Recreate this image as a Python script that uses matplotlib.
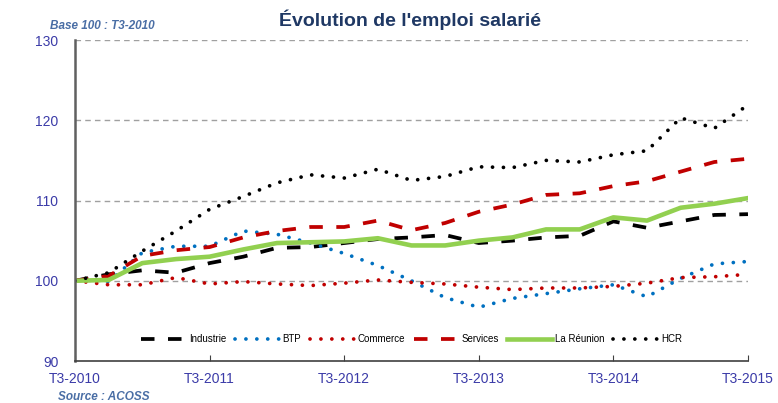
import numpy as np
import matplotlib.pyplot as plt

plt.rcParams['font.family'] = ['Liberation Sans', 'DejaVu Sans']

quarters = ["T3-2010", "T4-2010", "T1-2011", "T2-2011", "T3-2011", "T4-2011", "T1-2012", "T2-2012",
            "T3-2012", "T4-2012", "T1-2013", "T2-2013", "T3-2013", "T4-2013", "T1-2014", "T2-2014",
            "T3-2014", "T4-2014", "T1-2015", "T2-2015", "T3-2015"]
industrie = [100, 100.8, 101.3, 101.0, 102.2, 103.0, 104.1, 104.2, 104.7, 105.2, 105.4, 105.7,
             104.7, 105.0, 105.4, 105.6, 107.4, 106.6, 107.4, 108.2, 108.3]
btp = [100, 99.9, 103.5, 104.3, 104.3, 106.2, 105.8, 104.7, 103.4, 101.9, 100.0, 97.9,
       96.7, 97.8, 98.4, 99.0, 99.5, 98.0, 100.3, 102.1, 102.4]
commerce = [100, 99.5, 99.5, 100.4, 99.6, 99.9, 99.6, 99.4, 99.7, 100.1, 99.8, 99.6,
            99.2, 98.9, 99.1, 99.1, 99.3, 99.7, 100.4, 100.5, 100.8]
services = [100, 100.6, 103.1, 103.8, 104.2, 105.4, 106.2, 106.7, 106.7, 107.5, 106.3, 107.2,
            108.6, 109.5, 110.7, 110.9, 111.8, 112.4, 113.6, 114.8, 115.2]
reunion = [100, 100.1, 102.2, 102.7, 103.0, 103.9, 104.7, 104.8, 104.9, 105.3, 104.4, 104.4,
           105.0, 105.4, 106.4, 106.4, 107.9, 107.5, 109.1, 109.6, 110.3]
hcr = [100, 101.0, 103.7, 106.2, 108.9, 110.5, 112.2, 113.2, 112.8, 113.9, 112.5, 113.0,
       114.2, 114.1, 115.0, 114.8, 115.7, 116.2, 120.3, 119.0, 121.9]

x = np.arange(len(quarters))
dots = (0, (0.01, 2.9))
dashes = (0, (3.6, 3.6))

fig = plt.figure(figsize=(7.78, 4.03), dpi=100)
ax = fig.add_axes([0.0964, 0.1042, 0.865, 0.7965])

ax.plot(x, industrie, color='black', lw=2.7, linestyle=dashes, label='Industrie')
ax.plot(x, btp, color='#0070c0', lw=2.7, linestyle=dots, dash_capstyle='round', label='BTP')
ax.plot(x, commerce, color='#c00000', lw=2.7, linestyle=dots, dash_capstyle='round', label='Commerce')
ax.plot(x, services, color='#c00000', lw=2.7, linestyle=dashes, label='Services')
ax.plot(x, reunion, color='#92d050', lw=3.3, label='La Réunion')
ax.plot(x, hcr, color='black', lw=2.7, linestyle=dots, dash_capstyle='round', label='HCR')

ax.set_xlim(0, 20)
ax.set_ylim(90, 130)
ax.set_yticks([90, 100, 110, 120, 130])
ax.set_xticks(x[::4])
ax.set_xticklabels(quarters[::4])
lab_col = '#3b3ba8'
ax.tick_params(axis='x', direction='in', length=4, colors='#404040', labelcolor=lab_col,
               labelsize=10, pad=8)
ax.tick_params(axis='y', length=0, labelcolor=lab_col, labelsize=10, pad=12)
for v in [100, 110, 120, 130]:
    ax.axhline(v, color='#a0a0a0', lw=1, linestyle=(0, (4, 3)), zorder=0)
ax.spines['top'].set_visible(False)
ax.spines['right'].set_visible(False)
ax.spines['left'].set_color('#606060')
ax.spines['left'].set_linewidth(1.8)
ax.spines['bottom'].set_color('#404040')
ax.spines['bottom'].set_linewidth(1.2)

ax.legend(loc='lower center', bbox_to_anchor=(0.5, 0.025), ncol=6, frameon=False, fontsize=7,
          handlelength=4.6, handletextpad=0.3, columnspacing=0.9)

fig.text(0.527, 0.95, "Évolution de l'emploi salarié", ha='center', va='center',
         fontsize=14, fontweight='bold', color='#1f3864')
fig.text(0.064, 0.936, "Base 100 : T3-2010", ha='left', va='center', fontsize=8.5,
         fontweight='bold', fontstyle='italic', color='#4a6ea5')
fig.text(0.075, 0.015, "Source : ACOSS", ha='left', va='center', fontsize=8.5,
         fontweight='bold', fontstyle='italic', color='#4a6ea5')

fig.savefig('out.png', dpi=100)
